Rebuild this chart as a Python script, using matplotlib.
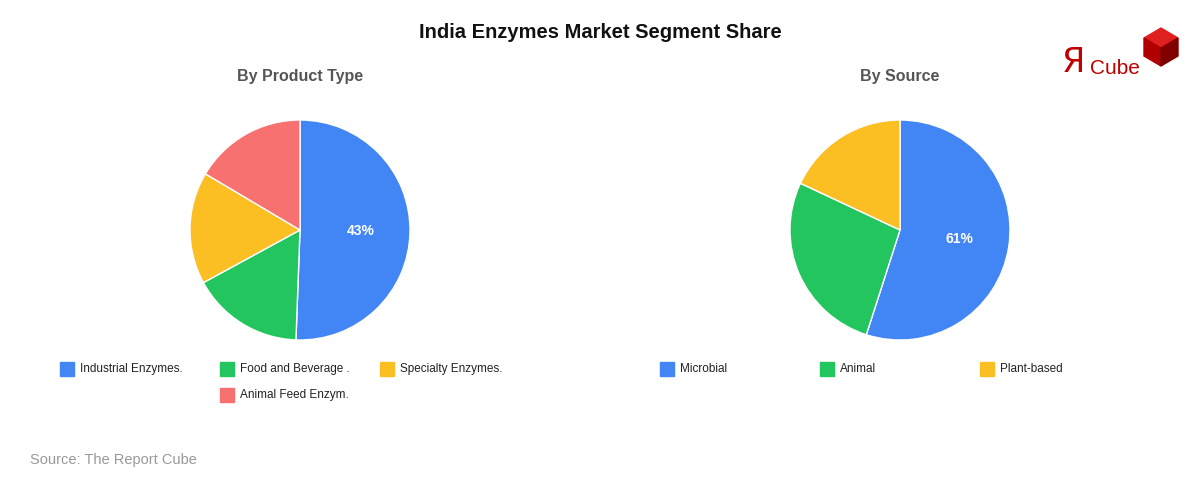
import numpy as np
import matplotlib.pyplot as plt
from matplotlib.patches import Rectangle, Polygon

# data
product_labels = ["Industrial Enzymes.", "Food and Beverage .", "Specialty Enzymes.", "Animal Feed Enzym."]
product_values = [43, 14, 14, 14]
source_labels = ["Microbial", "Animal", "Plant-based"]
source_values = [61, 30, 20]

colors = ["#4285F4", "#22C55E", "#FBBF24", "#F87171"]

W, H = 1200, 480
fig = plt.figure(figsize=(12, 4.8), dpi=100)
plt.rcParams['font.family'] = ['Liberation Sans', 'DejaVu Sans']


def px_axes(cx, cy, r):
    return fig.add_axes([(cx - r) / W, (H - cy - r) / H, 2 * r / W, 2 * r / H])


def draw_pie(cx, cy, values, title):
    ax = px_axes(cx, cy, 110)
    total = sum(values)
    ax.pie(values, colors=colors[:len(values)], startangle=90, counterclock=False,
           wedgeprops=dict(edgecolor="white", linewidth=1))
    ax.set_xlim(-1, 1)
    ax.set_ylim(-1, 1)
    ax.set_aspect("equal")
    # label only the largest slice, showing the raw value
    frac = values[0] / total
    ang = np.deg2rad(90 - frac * 360 / 2)
    ax.text(0.55 * np.cos(ang), 0.55 * np.sin(ang), f"{values[0]}%", ha="center", va="center",
            color="white", fontsize=10, fontweight="bold")
    fig.text(cx / W, 1 - 77 / H, title, ha="center", va="center", fontsize=11.5,
             fontweight="bold", color="#555555")


def draw_legend(x0, labels):
    for i, lab in enumerate(labels):
        row = i // 3
        col = i % 3 + (1 if row == 1 else 0)
        x = x0 + col * 160
        y = 369 + row * 26
        fig.patches.append(Rectangle((x / W, 1 - (y + 7) / H), 14 / W, 14 / H,
                                     transform=fig.transFigure, color=colors[i]))
        fig.text((x + 20) / W, 1 - y / H, lab, ha="left", va="center", fontsize=8.5, color="#222222")


draw_pie(300, 230, product_values, "By Product Type")
draw_pie(900, 230, source_values, "By Source")
draw_legend(60, product_labels)
draw_legend(660, source_labels)

fig.text(0.5, 1 - 33 / H, "India Enzymes Market Segment Share", ha="center", va="center",
         fontsize=14.5, fontweight="bold", color="#111111")
fig.text(30 / W, 1 - 460 / H, "Source: The Report Cube", ha="left", va="center",
         fontsize=10.5, color="#999999")

# logo
top = [(1144, 38), (1161, 28), (1178, 38), (1161, 48)]
left = [(1144, 38), (1161, 48), (1161, 66), (1144, 56)]
right = [(1161, 48), (1178, 38), (1178, 56), (1161, 66)]
for pts, c in [(top, "#E02020"), (left, "#B00000"), (right, "#800000")]:
    fig.patches.append(Polygon([(x / W, 1 - y / H) for x, y in pts], closed=True,
                               transform=fig.transFigure, color=c))
fig.text(1062 / W, 1 - 62 / H, "Я", ha="left", va="center", fontsize=24, color="#C00000",
         family=["DejaVu Sans"])
fig.text(1090 / W, 1 - 68 / H, "Cube", ha="left", va="center", fontsize=15, color="#C00000")

fig.savefig("out.png", dpi=100, facecolor="white")
